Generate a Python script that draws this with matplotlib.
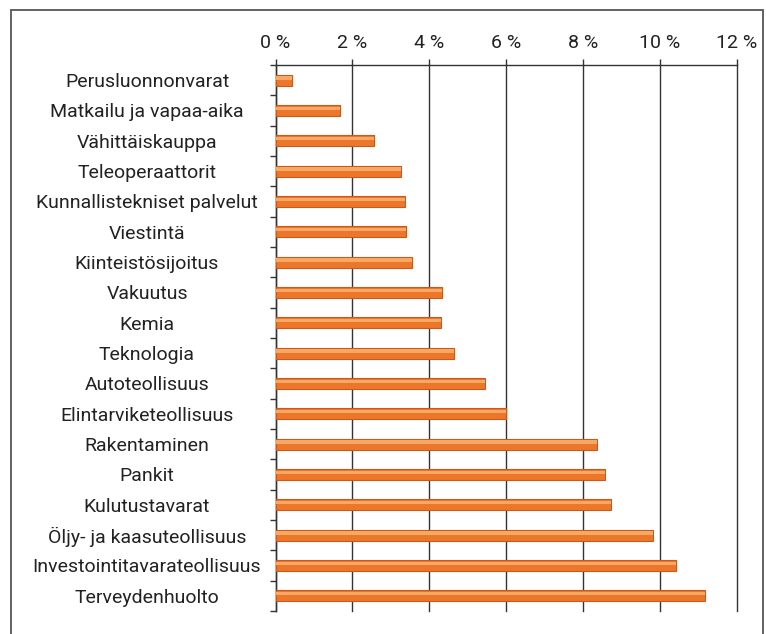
import matplotlib.pyplot as plt
from matplotlib.patches import Rectangle
from matplotlib.ticker import MultipleLocator, FuncFormatter
import numpy as np

# Toimialat ja osuudet (%)
sectors = ['Perusluonnonvarat', 'Matkailu ja vapaa-aika', 'Vähittäiskauppa',
           'Teleoperaattorit', 'Kunnallistekniset palvelut', 'Viestintä',
           'Kiinteistösijoitus', 'Vakuutus', 'Kemia', 'Teknologia',
           'Autoteollisuus', 'Elintarviketeollisuus', 'Rakentaminen', 'Pankit',
           'Kulutustavarat', 'Öljy- ja kaasuteollisuus',
           'Investointitavarateollisuus', 'Terveydenhuolto']
shares = [0.44, 1.68, 2.57, 3.26, 3.36, 3.40, 3.54, 4.32, 4.31, 4.64,
          5.46, 5.99, 8.37, 8.57, 8.72, 9.82, 10.42, 11.18]

plt.rcParams['font.family'] = ['Roboto', 'DejaVu Sans']

fig = plt.figure(figsize=(7.66, 6.34), dpi=100)
ax = fig.add_axes([0.3597, 0.0363, 0.6020, 0.8612])

# outer frame
fig.patches.append(Rectangle((11 / 766, -0.05), 752 / 766, 1.05 - 10 / 634,
                             transform=fig.transFigure, fill=False,
                             edgecolor='#555555', linewidth=1.3))

y = np.arange(len(sectors))
ax.barh(y, shares, height=0.37, color='#EC762A', edgecolor='#C95A1B',
        linewidth=0.8, zorder=3)
# lighter highlight on the upper part of each bar
ax.barh(y - 0.07, shares, height=0.11, color='#F8A865', linewidth=0,
        zorder=4)

ax.set_xlim(0, 12)
ax.set_ylim(len(sectors) - 0.5, -0.5)

ax.xaxis.set_major_locator(MultipleLocator(2))
ax.xaxis.set_major_formatter(FuncFormatter(lambda v, p: f'{v:.0f} %'))
ax.xaxis.tick_top()
ax.tick_params(axis='x', direction='out', length=4, width=1, color='#333333',
               labelsize=14, pad=5, labelcolor='#222222')
ax.grid(axis='x', color='#333333', linewidth=1, zorder=0)
for gl in ax.get_xgridlines():
    gl.set_clip_on(False)

ax.set_yticks(y)
ax.set_yticklabels(sectors, ha='center')
ax.set_yticks(np.arange(len(sectors) + 1) - 0.5, minor=True)
ax.tick_params(axis='y', which='major', length=0, labelsize=14, pad=92.5,
               labelcolor='#222222')
ax.tick_params(axis='y', which='minor', length=4, width=1, color='#333333')

for side in ['right', 'bottom']:
    ax.spines[side].set_visible(False)
for side in ['left', 'top']:
    ax.spines[side].set_color('#333333')
    ax.spines[side].set_linewidth(1)

fig.savefig('out.png', dpi=100)
